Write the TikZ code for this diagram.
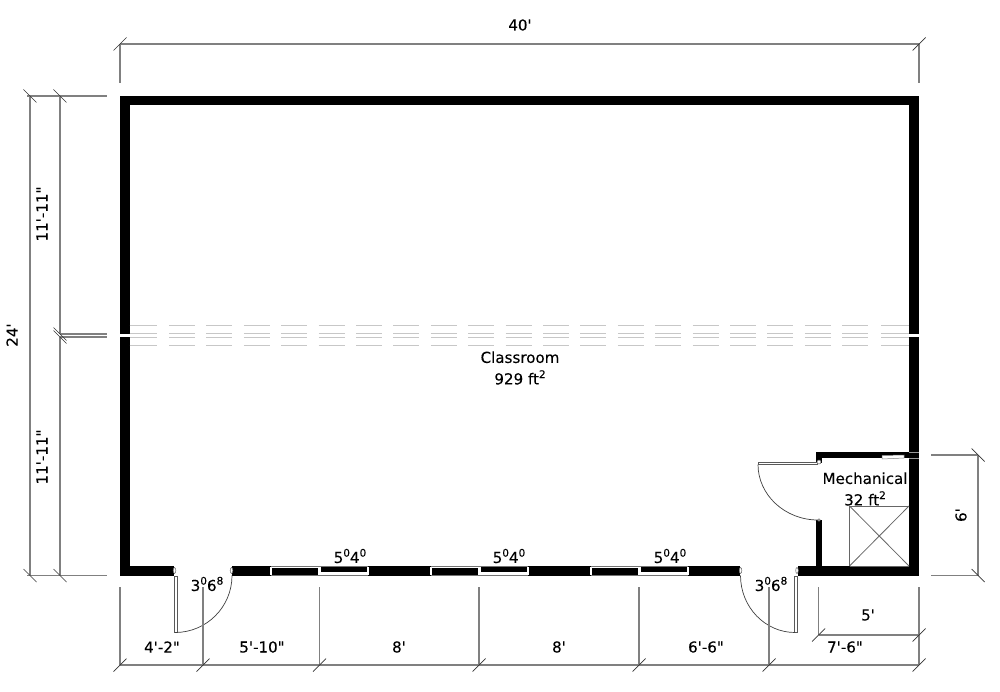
\documentclass[tikz,border=0pt]{standalone}
\usepackage{fontspec}
\newfontfamily\planfont[FakeBold=0.12]{DejaVu Sans}
\newcommand{\supfig}[1]{\raisebox{0.42em}{\fontsize{10.5}{10.5}\selectfont #1}}
\usetikzlibrary{positioning}

\begin{document}
\begin{tikzpicture}[x=1pt,y=-1pt,line cap=butt]
  \tikzstyle{wall}=[fill=black,draw=none]
  \tikzstyle{dim}=[draw=black!50,line width=1.2pt]
  \tikzstyle{tick}=[draw=black!80,line width=0.7pt]
  \tikzstyle{swing}=[draw=black!75,line width=0.7pt]
  \tikzstyle{leaf}=[draw=black!65,fill=white,line width=0.7pt]
  \tikzstyle{knob}=[draw=black!60,fill=white,line width=0.5pt]
  \tikzstyle{seam}=[draw=black!22,line width=1pt]
  \tikzstyle{duct}=[draw=black!60,line width=0.8pt]
  \tikzstyle{label}=[inner sep=0pt,align=center,font=\planfont\fontsize{15.1}{21.5}\selectfont]

  \useasboundingbox (0,0) rectangle (1000,692);

  % walls
  \path[wall] (120,96) rectangle (919,105.5);
  \path[wall] (120,96) rectangle (129.5,334);
  \path[wall] (120,337) rectangle (129.5,575.5);
  \path[wall] (909,105) rectangle (919,334);
  \path[wall] (909,337) rectangle (919,575.5);
  \path[wall] (120,566) rectangle (174,575.5);
  \path[wall] (232,566) rectangle (740,575.5);
  \path[wall] (798,566) rectangle (919,575.5);
  \path[wall] (816,452) rectangle (909,458);
  \path[wall] (816,452) rectangle (822,463);
  \path[wall] (816,520) rectangle (822,566);

  % the seam through the room
  \foreach \y in {325,333.5,337,345} {
    \draw[seam] (129.5,\y) -- (157,\y);
    \draw[seam] (881,\y) -- (909,\y);
    \foreach \k in {0,...,18}
      \draw[seam] (169+37.4*\k,\y) -- (195+37.4*\k,\y);
  }

  % windows
  \foreach \x in {271,431,591} {
    \draw[black!55,line width=1pt] (\x,566) -- (\x+97,566);
    \draw[black!55,line width=1pt] (\x,575.5) -- (\x+97,575.5);
    \fill[white] (\x,566.5) rectangle (\x+48,568);
    \fill[white] (\x+48,571.5) rectangle (\x+97,575);
    \foreach \d in {0,48.5,97}
      \draw[white,line width=2.4pt] (\x+\d,566.5) -- (\x+\d,575);
  }

  % doors
  \path[leaf] (174,576) rectangle (177.5,632.5);
  \draw[swing] (175,632.5) .. controls (206.5,632.5) and (232,607) .. (232,575.5);
  \path[leaf] (794.5,576) rectangle (797.5,632.5);
  \draw[swing] (795,632.5) .. controls (765,632.5) and (740.5,607) .. (740.5,575.5);
  \path[leaf] (758,462.5) rectangle (817,464.5);
  \draw[swing] (758,464.5) .. controls (758,495) and (785,520) .. (818,520);
  \foreach \x/\y in {174.5/570.5,231.5/570.5,740.5/570.5,797/570.5}
    \path[knob] (\x,\y) ellipse (1.3 and 3);
  \path[knob] (819,462) circle (2);
  \path[knob] (819,520) circle (1.3);

  % vent in the mechanical wall
  \path[fill=white,draw=black!50,line width=0.5pt] (882,455.5) -- (904,455) -- (904,458) -- (882,459) -- cycle;
  \draw[black!40,line width=0.3pt] (909,452.5) -- (919,452.5);
  \draw[black!40,line width=0.3pt] (909,458) -- (919,458);

  % shaft
  \draw[duct] (849.5,566) -- (849.5,506) -- (909,506);
  \draw[duct] (849.5,566) -- (909,506);
  \draw[duct] (849.5,506) -- (909,566);
  \draw[duct] (849.5,566) -- (909,566);

  % dimensions
  \draw[dim] (120,44) -- (919,44);
  \draw[dim] (120,44) -- (120,83);
  \draw[dim] (919,44) -- (919,83);
  \draw[dim] (30,96) -- (30,575.5);
  \draw[dim] (60,96) -- (60,334);
  \draw[dim] (60,337) -- (60,575.5);
  \draw[dim] (27,96) -- (107,96);
  \draw[dim] (27,575.5) -- (107,575.5);
  \draw[dim] (60,334) -- (107,334);
  \draw[dim] (60,337) -- (107,337);
  \draw[dim] (120,665) -- (919,665);
  \foreach \x in {120,203,319.5,479,639,769,919}
    \draw[dim] (\x,587) -- (\x,665);
  \draw[dim] (818.5,587) -- (818.5,635);
  \draw[dim] (818.5,635) -- (919,635);
  \draw[dim] (931,455) -- (978,455);
  \draw[dim] (931,575.5) -- (978,575.5);
  \draw[dim] (978,455) -- (978,575.5);

  \foreach \x/\y in {120/44,919/44,120/665,203/665,319.5/665,479/665,639/665,769/665,919/665,818.5/635,919/635}
    \draw[tick] (\x-6.5,\y+6.5) -- (\x+6.5,\y-6.5);
  \foreach \x/\y in {30/96,60/96,30/575.5,60/575.5,60/334,60/337,978/455,978/575.5}
    \draw[tick] (\x-6.5,\y-6.5) -- (\x+6.5,\y+6.5);

  % labels
  \node[label] (width)    at (520,25)  {40'};
  \node[label,rotate=90] (height) at (12,335)  {24'};
  \node[label,rotate=90] (upper)  at (42,214)  {11'-11"};
  \node[label,rotate=90] (lower)  at (42,457)  {11'-11"};
  \node[label,rotate=90] (mech_h) at (961,515) {6'};
  \node[label] (class) at (520,368) {Classroom\\929 ft\supfig{2}};
  \node[label] (mech)  at (865,489) {Mechanical\\32 ft\supfig{2}};
  \node[label] (door_a) at (207,584) {3\supfig{0}6\supfig{8}};
  \node[label] (door_b) at (771,584) {3\supfig{0}6\supfig{8}};
  \node[label] (win_a)  at (350,556) {5\supfig{0}4\supfig{0}};
  \node[label] (win_b)  at (509,556) {5\supfig{0}4\supfig{0}};
  \node[label] (win_c)  at (670,556) {5\supfig{0}4\supfig{0}};
  \node[label] (dim_a) at (162,647) {4'-2"};
  \node[label] (dim_b) at (262,647) {5'-10"};
  \node[label] (dim_c) at (399,647) {8'};
  \node[label] (dim_d) at (559,647) {8'};
  \node[label] (dim_e) at (706,647) {6'-6"};
  \node[label] (dim_f) at (845,647) {7'-6"};
  \node[label] (dim_g) at (868,615) {5'};
\end{tikzpicture}
\end{document}
